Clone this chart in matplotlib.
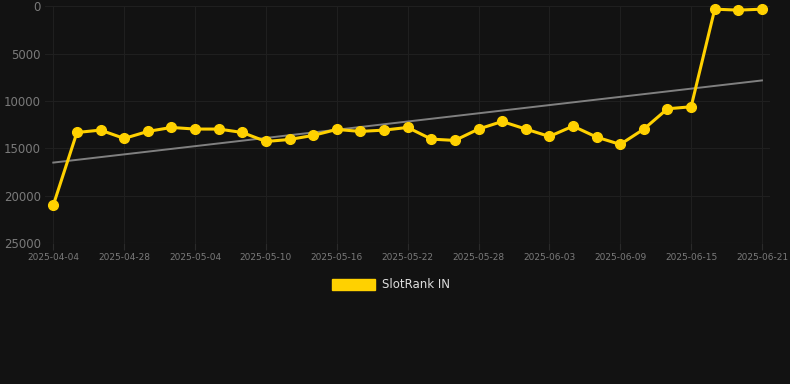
import numpy as np
import matplotlib
matplotlib.use("Agg")
import matplotlib.pyplot as plt
from matplotlib.patches import Patch

dates = ["2025-04-04", "2025-04-24", "2025-04-26", "2025-04-28", "2025-04-30",
         "2025-05-02", "2025-05-04", "2025-05-06", "2025-05-08", "2025-05-10",
         "2025-05-12", "2025-05-14", "2025-05-16", "2025-05-18", "2025-05-20",
         "2025-05-22", "2025-05-24", "2025-05-26", "2025-05-28", "2025-05-30",
         "2025-06-01", "2025-06-03", "2025-06-05", "2025-06-07", "2025-06-09",
         "2025-06-11", "2025-06-13", "2025-06-15", "2025-06-17", "2025-06-19",
         "2025-06-21"]
rank = [21000, 13330, 13080, 13960, 13220, 12800, 12970, 12970, 13330, 14280,
        14070, 13640, 13010, 13220, 13080, 12800, 14030, 14170, 12970, 12170,
        12970, 13750, 12660, 13820, 14590, 12970, 10830, 10620, 320, 420, 320]
yticks = [0, 5000, 10000, 15000, 20000, 25000]
series_name = "SlotRank IN"

BG = "#121212"
GOLD = "#FFD100"

fig = plt.figure(figsize=(7.9, 3.84), dpi=100, facecolor=BG)
ax = fig.add_axes([0.057, 0.367, 0.918, 0.617], facecolor=BG)

x = np.arange(len(rank))
ax.plot(x, rank, color=GOLD, lw=2.2, marker="o", ms=7, zorder=3, clip_on=False)

# trend line
k, b = np.polyfit(x, rank, 1)
ax.plot(x[[0, -1]], k * x[[0, -1]] + b, color="#808080", lw=1.4, zorder=2)

ax.set_ylim(25000, 0)
ax.set_yticks(yticks)
ax.set_xlim(-0.35, 30.35)
ax.set_xticks(x[::3])
ax.set_xticklabels(dates[::3])

ax.grid(True, color="#1f1f1f", lw=0.8)
for s in ax.spines.values():
    s.set_visible(False)
ax.axhline(25000, color="#2a2a2a", lw=0.8)
ax.tick_params(axis="y", length=0, labelsize=8.5, labelcolor="#7a7a7a", pad=3)
ax.tick_params(axis="x", length=5, color="#2a2a2a", labelsize=6.5, labelcolor="#7a7a7a", pad=2)

leg = fig.legend(handles=[Patch(color=GOLD, label=series_name)],
                 loc="center", bbox_to_anchor=(0.495, 0.258), frameon=False,
                 handlelength=3.6, handleheight=1.0, handletextpad=0.6, fontsize=8.5)
for t in leg.get_texts():
    t.set_color("#dddddd")

fig.savefig("out.png", dpi=100, facecolor=BG)
